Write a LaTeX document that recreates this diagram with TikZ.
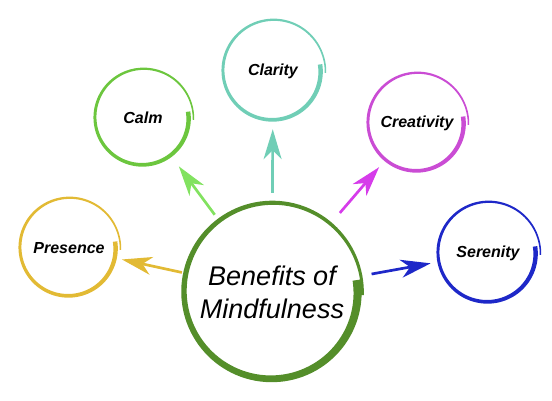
\documentclass[tikz,border=0pt]{standalone}
\usepackage{fontspec}
\setmainfont{Liberation Sans}
\usetikzlibrary{arrows.meta}

\definecolor{mindgreen}{RGB}{84,142,42}
\definecolor{presgold}{RGB}{226,186,52}
\definecolor{calmgreen}{RGB}{108,198,62}
\definecolor{calmarrow}{RGB}{130,226,96}
\definecolor{clarteal}{RGB}{112,206,182}
\definecolor{creamag}{RGB}{202,76,212}
\definecolor{creaarrow}{RGB}{214,60,234}
\definecolor{sereblue}{RGB}{30,40,200}

% open brush-stroke ring round a node: node, radius, width, colour
\newcommand{\brushring}[4]{%
  \fill[#4, shift={(#1.center)}]
    plot[domain=8:-362, samples=120] (\x:{#2-2.5+5*(8-(\x))/370+#3*(1.5-(8-(\x))/370)/2})
    -- plot[domain=-362:8, samples=120] (\x:{#2-2.5+5*(8-(\x))/370-#3*(1.5-(8-(\x))/370)/2})
    -- cycle;
}

\tikzset{
  benefit/.style={circle, minimum size=#1, inner sep=0pt,
    font=\bfseries\itshape\fontsize{16}{19}\selectfont},
  benefit arrow/.style={-{Stealth[length=30pt,width=18pt,inset=9pt]},
    line width=2.7pt, draw=#1},
}

\begin{document}
\begin{tikzpicture}[x=1pt,y=1pt]
\useasboundingbox (0,0) rectangle (552,400);

\node[benefit=176pt, font=\itshape\fontsize{27}{33}\selectfont, align=center] (mind) at (272,108) {Benefits of\\Mindfulness};
\node[benefit=98pt] (presence) at (69,152) {Presence};
\node[benefit=96pt] (calm) at (143,282) {Calm};
\node[benefit=100pt] (clarity) at (273,329) {Clarity};
\node[benefit=98pt] (creativity) at (417,277) {Creativity};
\node[benefit=100pt] (serenity) at (488,147) {Serenity};

\brushring{mind}{88}{5.5}{mindgreen}
\brushring{presence}{49}{3}{presgold}
\brushring{calm}{48}{3}{calmgreen}
\brushring{clarity}{50}{3}{clarteal}
\brushring{creativity}{49}{3}{creamag}
\brushring{serenity}{50}{3}{sereblue}

\draw[benefit arrow=presgold, shorten <=4pt, shorten >=5pt] (mind) -- (presence);
\draw[benefit arrow=calmarrow, shorten <=8pt, shorten >=12pt] (mind) -- (calm);
\draw[benefit arrow=clarteal, shorten <=11pt, shorten >=8pt] (mind) -- (clarity);
\draw[benefit arrow=creaarrow, shorten <=16pt, shorten >=9pt] (mind) -- (creativity);
\draw[benefit arrow=sereblue, shorten <=13pt, shorten >=8pt] (mind) -- (serenity);
\end{tikzpicture}
\end{document}
